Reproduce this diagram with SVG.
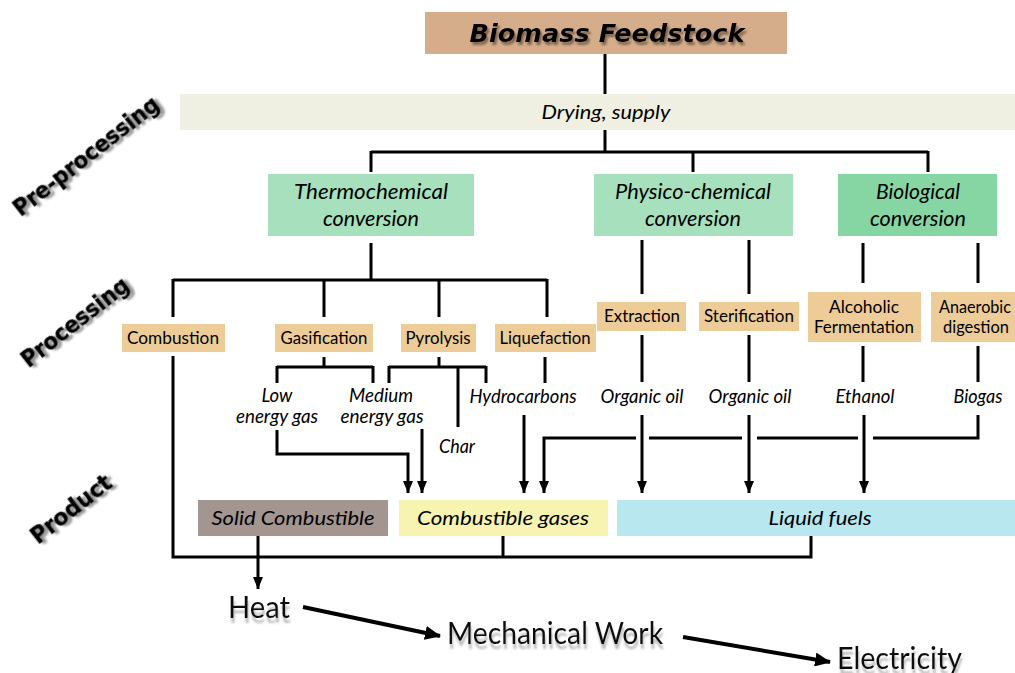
<svg xmlns="http://www.w3.org/2000/svg" width="1015" height="673" viewBox="0 0 1015 673">
  <defs>
    <style>
      .ln { fill: none; stroke: #000; stroke-width: 3; stroke-linecap: butt; stroke-linejoin: miter; }
      .ar { fill: none; stroke: #000; stroke-width: 3; marker-end: url(#ah); }
      .big { fill: none; stroke: #000; stroke-width: 4; marker-end: url(#ahBig); }
      .proc { fill: #EDCC97; }
      .conv { fill: #A6E0BC; }
      .pt { font-family: Lato, "Open Sans", sans-serif; font-size: 17.5px; fill: #000; text-anchor: middle; }
      .it { font-family: Lato, "Open Sans", sans-serif; font-style: italic; font-size: 18.5px; fill: #000; text-anchor: middle; }
      .cv { font-family: Lato, "Open Sans", sans-serif; font-style: italic; font-size: 22px; fill: #000; text-anchor: middle; }
      .stage { font-family: "DejaVu Sans", sans-serif; font-weight: bold; font-size: 23px; fill: #000; stroke: #000; stroke-width: 0.6; text-anchor: middle; filter: url(#stageShadow); }
      .out { font-family: Lato, "Open Sans", sans-serif; font-size: 30px; fill: #111; filter: url(#outShadow); }
    </style>
    <marker id="ah" markerWidth="10" markerHeight="12" refX="12" refY="5" orient="auto" markerUnits="userSpaceOnUse">
      <path d="M0,0 L12,5 L0,10 z" fill="#000"/>
    </marker>
    <marker id="ahBig" markerWidth="16" markerHeight="14" refX="15" refY="7" orient="auto" markerUnits="userSpaceOnUse">
      <path d="M0,0 L16,7 L0,14 z" fill="#000"/>
    </marker>
    <filter id="titleShadow" x="-10%" y="-30%" width="120%" height="160%">
      <feDropShadow dx="2" dy="3" stdDeviation="1" flood-color="#6b5442" flood-opacity="0.8"/>
    </filter>
    <filter id="stageShadow" x="-20%" y="-40%" width="140%" height="180%">
      <feDropShadow dx="3" dy="3" stdDeviation="1.2" flood-color="#777" flood-opacity="0.8"/>
    </filter>
    <filter id="outShadow" x="-10%" y="-30%" width="120%" height="180%">
      <feDropShadow dx="1" dy="5" stdDeviation="1.2" flood-color="#999" flood-opacity="0.7"/>
    </filter>
  </defs>

  <rect width="1015" height="673" fill="#fff"/>

  <!-- stage labels on the left -->
  <g id="stages">
    <text class="stage" transform="translate(86,156) rotate(-38)" dy="0.35em" textLength="178" lengthAdjust="spacingAndGlyphs">Pre-processing</text>
    <text class="stage" transform="translate(75,322) rotate(-38)" dy="0.35em" textLength="130" lengthAdjust="spacingAndGlyphs">Processing</text>
    <text class="stage" transform="translate(71,509) rotate(-38)" dy="0.35em" textLength="96" lengthAdjust="spacingAndGlyphs">Product</text>
  </g>

  <!-- connectors -->
  <g id="connectors">
    <path class="ln" d="M605,54 V94 M605,130 V152"/>
    <path class="ln" d="M371,152 H928 M371,151 V172 M693,151 V172 M928,151 V172"/>
    <path class="ln" d="M371,243 V280 M173,280 H547 M173,279 V317 M324,279 V317 M439,279 V317 M547,279 V317"/>
    <path class="ln" d="M642,240 V294 M749,240 V294 M863,243 V283 M978,243 V283"/>
    <path class="ln" d="M324,357 V367 M277,367 H373 M277,366 V383 M373,366 V383"/>
    <path class="ln" d="M439,357 V367 M389,367 H486 M389,366 V383 M486,366 V383 M458,367 V427"/>
    <path class="ln" d="M545,357 V383"/>
    <path class="ln" d="M642,335 V382 M749,335 V382 M863,346 V382 M978,346 V382"/>
    <path class="ar" d="M277,430 V454 H408 V493"/>
    <path class="ar" d="M422,429 V493"/>
    <path class="ar" d="M524,415 V493"/>
    <path class="ln" d="M978,415 V438 H873 M858,438 H757 M742,438 H649"/>
    <path class="ar" d="M636,438 H544 V493"/>
    <path class="ar" d="M642,415 V493"/>
    <path class="ar" d="M749,415 V493"/>
    <path class="ar" d="M864,415 V493"/>
    <path class="ln" d="M173,356 V557 H811 V536 M503,536 V557"/>
    <path class="ar" d="M258,536 V589"/>
    <path class="big" d="M303,607 L440,636"/>
    <path class="big" d="M683,637 L830,662"/>
  </g>

  <!-- source -->
  <g id="feedstock">
    <rect x="425" y="12" width="362" height="42" fill="#D5AD8B"/>
    <text x="607" y="42" font-family="'DejaVu Sans', sans-serif" font-weight="bold" font-style="oblique" font-size="24" text-anchor="middle" textLength="275" lengthAdjust="spacingAndGlyphs" filter="url(#titleShadow)">Biomass Feedstock</text>
  </g>

  <g id="drying">
    <rect x="180" y="94" width="835" height="36" fill="#EFEFE2"/>
    <text class="it" x="606" y="119" font-size="20" textLength="129" lengthAdjust="spacingAndGlyphs">Drying, supply</text>
  </g>

  <!-- conversion routes -->
  <g id="thermochemical">
    <rect class="conv" x="268" y="174" width="206" height="62"/>
    <text class="cv" x="371" y="199" textLength="154" lengthAdjust="spacingAndGlyphs">Thermochemical</text>
    <text class="cv" x="371" y="226" textLength="96" lengthAdjust="spacingAndGlyphs">conversion</text>
  </g>
  <g id="physicochemical">
    <rect class="conv" x="594" y="174" width="199" height="62"/>
    <text class="cv" x="693" y="199" textLength="156" lengthAdjust="spacingAndGlyphs">Physico-chemical</text>
    <text class="cv" x="693" y="226" textLength="96" lengthAdjust="spacingAndGlyphs">conversion</text>
  </g>
  <g id="biological">
    <rect x="838" y="174" width="159" height="62" fill="#86D6A4"/>
    <text class="cv" x="918" y="199" textLength="84" lengthAdjust="spacingAndGlyphs">Biological</text>
    <text class="cv" x="918" y="226" textLength="96" lengthAdjust="spacingAndGlyphs">conversion</text>
  </g>

  <!-- processes -->
  <g id="combustion">
    <rect class="proc" x="122" y="324" width="103" height="28"/>
    <text class="pt" x="173" y="344" textLength="92" lengthAdjust="spacingAndGlyphs">Combustion</text>
  </g>
  <g id="gasification">
    <rect class="proc" x="275" y="324" width="98" height="28"/>
    <text class="pt" x="324" y="344" textLength="87" lengthAdjust="spacingAndGlyphs">Gasification</text>
  </g>
  <g id="pyrolysis">
    <rect class="proc" x="401" y="324" width="75" height="28"/>
    <text class="pt" x="438" y="344" textLength="65" lengthAdjust="spacingAndGlyphs">Pyrolysis</text>
  </g>
  <g id="liquefaction">
    <rect class="proc" x="495" y="324" width="101" height="28"/>
    <text class="pt" x="545" y="344" textLength="91" lengthAdjust="spacingAndGlyphs">Liquefaction</text>
  </g>
  <g id="extraction">
    <rect class="proc" x="597" y="302" width="89" height="29"/>
    <text class="pt" x="642" y="322" textLength="76" lengthAdjust="spacingAndGlyphs">Extraction</text>
  </g>
  <g id="sterification">
    <rect class="proc" x="699" y="302" width="100" height="29"/>
    <text class="pt" x="749" y="322" textLength="90" lengthAdjust="spacingAndGlyphs">Sterification</text>
  </g>
  <g id="fermentation">
    <rect class="proc" x="808" y="292" width="113" height="50"/>
    <text class="pt" x="864" y="313" textLength="70" lengthAdjust="spacingAndGlyphs">Alcoholic</text>
    <text class="pt" x="864" y="333" textLength="100" lengthAdjust="spacingAndGlyphs">Fermentation</text>
  </g>
  <g id="digestion">
    <rect class="proc" x="931" y="292" width="84" height="50"/>
    <text class="pt" x="975" y="313" textLength="72" lengthAdjust="spacingAndGlyphs">Anaerobic</text>
    <text class="pt" x="976" y="333" textLength="66" lengthAdjust="spacingAndGlyphs">digestion</text>
  </g>

  <!-- intermediate products -->
  <g id="low-energy-gas">
    <text class="it" x="277" y="402" textLength="31" lengthAdjust="spacingAndGlyphs">Low</text>
    <text class="it" x="277" y="423" textLength="82" lengthAdjust="spacingAndGlyphs">energy gas</text>
  </g>
  <g id="medium-energy-gas">
    <text class="it" x="381" y="402" textLength="64" lengthAdjust="spacingAndGlyphs">Medium</text>
    <text class="it" x="382" y="423" textLength="83" lengthAdjust="spacingAndGlyphs">energy gas</text>
  </g>
  <g id="char">
    <text class="it" x="457" y="453" textLength="36" lengthAdjust="spacingAndGlyphs">Char</text>
  </g>
  <g id="hydrocarbons">
    <text class="it" x="523" y="403" textLength="107" lengthAdjust="spacingAndGlyphs">Hydrocarbons</text>
  </g>
  <g id="organic-oil-1">
    <text class="it" x="642" y="403" textLength="83" lengthAdjust="spacingAndGlyphs">Organic oil</text>
  </g>
  <g id="organic-oil-2">
    <text class="it" x="750" y="403" textLength="83" lengthAdjust="spacingAndGlyphs">Organic oil</text>
  </g>
  <g id="ethanol">
    <text class="it" x="865" y="403" textLength="59" lengthAdjust="spacingAndGlyphs">Ethanol</text>
  </g>
  <g id="biogas">
    <text class="it" x="978" y="403" textLength="49" lengthAdjust="spacingAndGlyphs">Biogas</text>
  </g>

  <!-- final products -->
  <g id="solid-combustible">
    <rect x="198" y="500" width="190" height="36" fill="#A39590"/>
    <text class="it" x="293" y="525" font-size="20" textLength="163" lengthAdjust="spacingAndGlyphs">Solid Combustible</text>
  </g>
  <g id="combustible-gases">
    <rect x="399" y="500" width="209" height="36" fill="#F7F3B0"/>
    <text class="it" x="503" y="525" font-size="20" textLength="172" lengthAdjust="spacingAndGlyphs">Combustible gases</text>
  </g>
  <g id="liquid-fuels">
    <rect x="617" y="500" width="398" height="36" fill="#B8E7EF"/>
    <text class="it" x="820" y="525" font-size="20" textLength="103" lengthAdjust="spacingAndGlyphs">Liquid fuels</text>
  </g>

  <!-- energy outputs -->
  <g id="heat">
    <text class="out" x="228" y="618" textLength="62" lengthAdjust="spacingAndGlyphs">Heat</text>
  </g>
  <g id="mechanical-work">
    <text class="out" x="447" y="644" textLength="216" lengthAdjust="spacingAndGlyphs">Mechanical Work</text>
  </g>
  <g id="electricity">
    <text class="out" x="837" y="669" textLength="125" lengthAdjust="spacingAndGlyphs">Electricity</text>
  </g>
</svg>
